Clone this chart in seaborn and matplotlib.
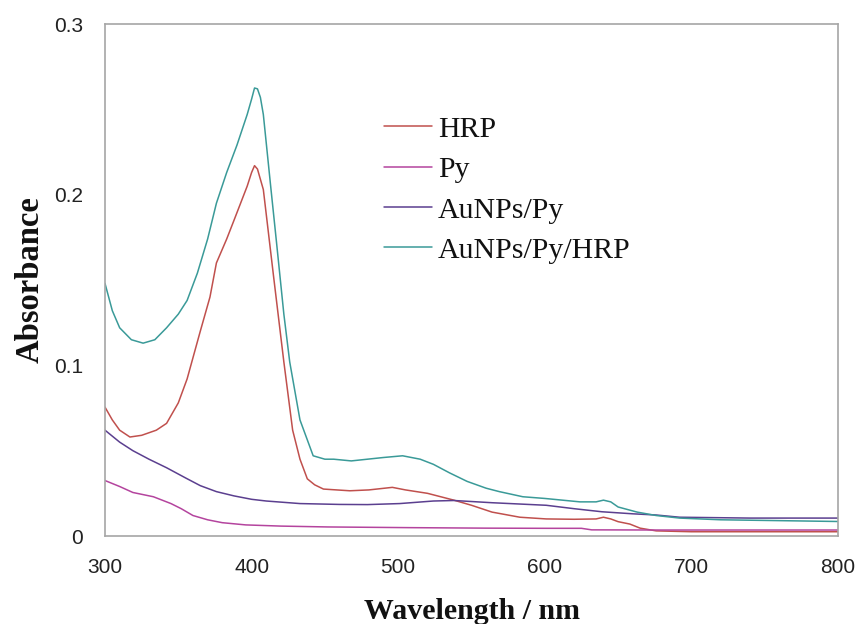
import matplotlib
matplotlib.use("Agg")
import matplotlib.pyplot as plt
import seaborn as sns
import pandas as pd

# ---- data ----
hrp_wl = [300, 305, 310, 317, 325, 335, 342, 350, 356, 365, 371.6, 376, 383, 388, 397, 400, 402,
          404, 408, 415, 422, 428, 433, 438, 443, 449, 458, 467, 480, 496, 505, 520, 538, 550,
          564, 583, 601, 620, 635, 640, 645, 650, 658, 665, 676, 700, 750, 800]
hrp_a = [0.0755, 0.068, 0.062, 0.058, 0.059, 0.062, 0.066, 0.078, 0.092, 0.120, 0.140, 0.160,
         0.174, 0.185, 0.205, 0.213, 0.217, 0.215, 0.203, 0.152, 0.102, 0.062, 0.045, 0.0335,
         0.030, 0.0275, 0.027, 0.0265, 0.027, 0.0285, 0.027, 0.025, 0.021, 0.018, 0.014, 0.011,
         0.010, 0.0098, 0.010, 0.011, 0.010, 0.0084, 0.007, 0.0046, 0.003, 0.0025, 0.0025, 0.0025]

py_wl = [300, 310, 319, 333, 345, 352, 360, 370, 380, 396, 420, 452, 507, 560, 601, 625, 632,
         680, 700, 800]
py_a = [0.0325, 0.029, 0.0255, 0.023, 0.019, 0.016, 0.012, 0.0095, 0.0078, 0.0065, 0.0058,
        0.0053, 0.0049, 0.0046, 0.0045, 0.0045, 0.0036, 0.0035, 0.0035, 0.0035]

aupy_wl = [300, 310, 319, 330, 342, 355, 365, 376, 388, 400, 410, 433, 460, 479, 501, 524, 538,
           564, 601, 620, 639, 660, 676, 692, 740, 800]
aupy_a = [0.062, 0.055, 0.050, 0.045, 0.040, 0.034, 0.0295, 0.026, 0.0235, 0.0215, 0.0205,
          0.019, 0.0185, 0.0184, 0.019, 0.0205, 0.0208, 0.0195, 0.018, 0.016, 0.0142, 0.013,
          0.0123, 0.011, 0.0105, 0.0105]

aupyhrp_wl = [300, 305, 310, 318, 326, 334, 342, 350, 356, 363, 370, 376, 383, 390, 397, 400,
              402, 404, 406, 408, 413, 417, 422, 426, 433, 442, 450, 456, 468, 479, 490, 503,
              515, 524, 535, 547, 560, 569, 585, 600, 624, 635, 640, 645, 650, 663, 676, 692,
              720, 760, 800]
aupyhrp_a = [0.148, 0.132, 0.122, 0.115, 0.113, 0.115, 0.122, 0.130, 0.138, 0.154, 0.174, 0.195,
             0.213, 0.229, 0.247, 0.256, 0.2625, 0.262, 0.257, 0.247, 0.205, 0.172, 0.130,
             0.102, 0.068, 0.047, 0.045, 0.045, 0.044, 0.045, 0.046, 0.047, 0.045, 0.042,
             0.037, 0.032, 0.028, 0.026, 0.023, 0.022, 0.020, 0.020, 0.021, 0.020, 0.017,
             0.014, 0.012, 0.0105, 0.0095, 0.009, 0.0085]

series_names = ["HRP", "Py", "AuNPs/Py", "AuNPs/Py/HRP"]
x_ticks = [300, 400, 500, 600, 700, 800]
y_ticks = [0, 0.1, 0.2, 0.3]
y_tick_labels = ["0", "0.1", "0.2", "0.3"]

frames = []
for name, wl, a in zip(series_names,
                       [hrp_wl, py_wl, aupy_wl, aupyhrp_wl],
                       [hrp_a, py_a, aupy_a, aupyhrp_a]):
    frames.append(pd.DataFrame({"Wavelength": wl, "Absorbance": a, "Sample": name}))
df = pd.concat(frames, ignore_index=True)

palette = {"HRP": "#C0504D", "Py": "#B4449E", "AuNPs/Py": "#5B3F8F", "AuNPs/Py/HRP": "#3A9A98"}

sns.set_theme(style="white")
plt.rcParams["font.family"] = ["Liberation Sans", "DejaVu Sans"]

fig = plt.figure(figsize=(8.58, 6.24), dpi=100)
ax = fig.add_axes([105 / 858, 1 - 536 / 624, (838 - 105) / 858, (536 - 24) / 624])

sns.lineplot(data=df, x="Wavelength", y="Absorbance", hue="Sample", hue_order=series_names,
             palette=palette, linewidth=1.1, ax=ax, sort=False, estimator=None)

ax.set_xlim(300, 800)
ax.set_ylim(0, 0.3)
ax.set_xticks(x_ticks)
ax.set_xticklabels([str(t) for t in x_ticks])
ax.set_yticks(y_ticks)
ax.set_yticklabels(y_tick_labels)

for s in ax.spines.values():
    s.set_visible(True)
    s.set_color("#A6A6A6")
    s.set_linewidth(1.2)

ax.tick_params(axis="both", which="major", direction="out", length=7, width=1.2,
               color="#A6A6A6", labelsize=15, labelcolor="#222222")
ax.tick_params(axis="x", pad=9)
ax.tick_params(axis="y", pad=9)

serif = ["Liberation Serif", "DejaVu Serif"]
ax.set_xlabel("Wavelength / nm", family=serif, fontweight="bold", fontsize=21.5, labelpad=15,
              color="#111111")
ax.set_ylabel("Absorbance", family=serif, fontweight="bold", fontsize=23.5, labelpad=6,
              color="#111111")

leg = ax.legend(loc="upper left", bbox_to_anchor=(384 / 858, 1 - 116 / 624),
                bbox_transform=fig.transFigure, frameon=False,
                prop={"family": serif, "size": 21.5}, handlelength=1.6, handletextpad=0.2,
                labelspacing=0.45, borderpad=0, borderaxespad=0)
for line in leg.get_lines():
    line.set_linewidth(1.1)
for t in leg.get_texts():
    t.set_color("#111111")

fig.savefig("out.png", dpi=100)
